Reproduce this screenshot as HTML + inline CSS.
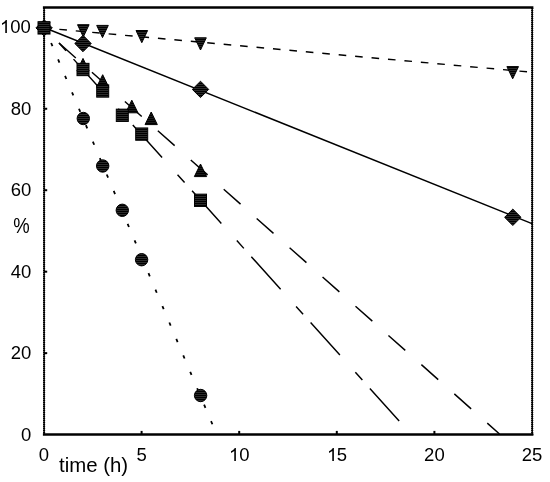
<!DOCTYPE html>
<html><head><meta charset="utf-8"><style>
html,body{margin:0;padding:0;background:#fff;}
body{width:550px;height:482px;position:relative;overflow:hidden;font-family:"Liberation Sans",sans-serif;color:#000;}
svg.m{position:absolute;left:0;top:0;}
.tx{position:absolute;left:0;top:0;width:550px;height:482px;will-change:transform;}
.yl{position:absolute;right:518.6px;font-size:18.5px;line-height:18px;text-align:right;white-space:nowrap;}
.xl{position:absolute;font-size:18.5px;line-height:18px;width:40px;text-align:center;white-space:nowrap;}
.o{vertical-align:baseline;display:inline-block;}
.t{position:absolute;font-size:20.4px;line-height:20px;white-space:nowrap;}
</style></head><body>
<div class="all" style="position:absolute;left:0;top:0;width:550px;height:482px;filter:blur(0.3px)">
<svg class="m" width="550" height="482" viewBox="0 0 550 482">
<defs>
<pattern id="hs" width="4" height="2" patternUnits="userSpaceOnUse">
<rect width="4" height="2" fill="#000"/>
<rect y="0" width="4" height="1" fill="#2c2c2c"/>
</pattern>
<pattern id="hs2" width="4" height="2" patternUnits="userSpaceOnUse">
<rect width="4" height="2" fill="#000"/>
<rect y="0" width="4" height="1" fill="#1c1c1c"/>
</pattern>
<pattern id="ev" width="4" height="2" patternUnits="userSpaceOnUse">
<rect width="4" height="1" fill="#000"/>
</pattern>
</defs>
<line x1="42.9" y1="7.45" x2="533.4" y2="7.45" stroke="#000" stroke-width="2.4"/>
<line x1="42.9" y1="434.45" x2="533.4" y2="434.45" stroke="#000" stroke-width="2.4"/>
<rect x="43.35" y="7" width="1.5" height="428" fill="#000"/>
<rect x="43.05" y="7" width="2.1" height="428" fill="url(#ev)"/>
<rect x="531.45" y="7" width="1.5" height="428" fill="#000"/>
<rect x="531.15" y="7" width="2.1" height="428" fill="url(#ev)"/>
<line x1="141.60" y1="434" x2="141.60" y2="430.9" stroke="#000" stroke-width="2"/>
<line x1="239.20" y1="434" x2="239.20" y2="430.9" stroke="#000" stroke-width="2"/>
<line x1="336.80" y1="434" x2="336.80" y2="430.9" stroke="#000" stroke-width="2"/>
<line x1="434.40" y1="434" x2="434.40" y2="430.9" stroke="#000" stroke-width="2"/>
<line x1="44" y1="353.14" x2="47.2" y2="353.14" stroke="#000" stroke-width="2"/>
<line x1="44" y1="271.68" x2="47.2" y2="271.68" stroke="#000" stroke-width="2"/>
<line x1="44" y1="190.22" x2="47.2" y2="190.22" stroke="#000" stroke-width="2"/>
<line x1="44" y1="108.76" x2="47.2" y2="108.76" stroke="#000" stroke-width="2"/>
<line x1="44" y1="27.5" x2="532" y2="223.6" stroke="#000" stroke-width="1.45"/>
<line x1="44" y1="28" x2="529" y2="72" stroke="#000" stroke-width="1.45" stroke-dasharray="7.6 8.9" stroke-dashoffset="1.1"/>
<line x1="59" y1="43" x2="499.5" y2="434" stroke="#000" stroke-width="1.45" stroke-dasharray="22.5 21.55"/>
<line x1="59" y1="43" x2="410.9" y2="434" stroke="#000" stroke-width="1.45" stroke-dasharray="10.5 11.2 43.8 23.1"/>
<line x1="44" y1="26.1" x2="216.5" y2="434" stroke="#000" stroke-width="1.8" stroke-dasharray="3.4 14.45" stroke-dashoffset="-0.5"/>
<path d="M38.40 22.00L50.00 22.00L44.20 34.20Z" fill="url(#hs)" stroke="#000" stroke-width="1.0" stroke-linejoin="miter"/>
<path d="M77.50 24.70L89.10 24.70L83.30 36.90Z" fill="url(#hs)" stroke="#000" stroke-width="1.0" stroke-linejoin="miter"/>
<path d="M96.70 25.40L108.30 25.40L102.50 37.60Z" fill="url(#hs)" stroke="#000" stroke-width="1.0" stroke-linejoin="miter"/>
<path d="M136.00 30.50L147.60 30.50L141.80 42.70Z" fill="url(#hs)" stroke="#000" stroke-width="1.0" stroke-linejoin="miter"/>
<path d="M194.70 37.80L206.30 37.80L200.50 50.00Z" fill="url(#hs)" stroke="#000" stroke-width="1.0" stroke-linejoin="miter"/>
<path d="M506.90 66.60L518.50 66.60L512.70 78.80Z" fill="url(#hs)" stroke="#000" stroke-width="1.0" stroke-linejoin="miter"/>
<path d="M44.10 19.70L52.30 27.90L44.10 36.09L35.91 27.90Z" fill="url(#hs)" stroke="#000" stroke-width="1.0"/>
<path d="M83.00 35.30L91.19 43.50L83.00 51.70L74.81 43.50Z" fill="url(#hs)" stroke="#000" stroke-width="1.0"/>
<path d="M200.50 81.21L208.69 89.40L200.50 97.59L192.31 89.40Z" fill="url(#hs)" stroke="#000" stroke-width="1.0"/>
<path d="M512.80 209.11L521.00 217.30L512.80 225.50L504.60 217.30Z" fill="url(#hs)" stroke="#000" stroke-width="1.0"/>
<path d="M83.00 58.40L89.15 71.00L76.85 71.00Z" fill="url(#hs2)" stroke="#000" stroke-width="1.0" stroke-linejoin="miter"/>
<path d="M102.70 74.70L108.85 87.30L96.55 87.30Z" fill="url(#hs2)" stroke="#000" stroke-width="1.0" stroke-linejoin="miter"/>
<path d="M131.80 100.20L137.95 112.80L125.65 112.80Z" fill="url(#hs2)" stroke="#000" stroke-width="1.0" stroke-linejoin="miter"/>
<path d="M151.20 112.00L157.35 124.60L145.05 124.60Z" fill="url(#hs2)" stroke="#000" stroke-width="1.0" stroke-linejoin="miter"/>
<path d="M200.50 164.00L206.65 176.60L194.35 176.60Z" fill="url(#hs2)" stroke="#000" stroke-width="1.0" stroke-linejoin="miter"/>
<rect x="38.00" y="21.75" width="12.00" height="12.30" fill="url(#hs)" stroke="#000" stroke-width="1.0"/>
<rect x="77.00" y="63.35" width="12.00" height="12.30" fill="url(#hs)" stroke="#000" stroke-width="1.0"/>
<rect x="96.70" y="84.85" width="12.00" height="12.30" fill="url(#hs)" stroke="#000" stroke-width="1.0"/>
<rect x="116.30" y="109.15" width="12.00" height="12.30" fill="url(#hs)" stroke="#000" stroke-width="1.0"/>
<rect x="135.70" y="127.95" width="12.00" height="12.30" fill="url(#hs)" stroke="#000" stroke-width="1.0"/>
<rect x="194.50" y="194.15" width="12.00" height="12.30" fill="url(#hs)" stroke="#000" stroke-width="1.0"/>
<circle cx="83.30" cy="118.50" r="6.20" fill="url(#hs)" stroke="#000" stroke-width="1.0"/>
<circle cx="102.70" cy="166.00" r="6.20" fill="url(#hs)" stroke="#000" stroke-width="1.0"/>
<circle cx="122.30" cy="210.30" r="6.20" fill="url(#hs)" stroke="#000" stroke-width="1.0"/>
<circle cx="141.60" cy="259.70" r="6.20" fill="url(#hs)" stroke="#000" stroke-width="1.0"/>
<circle cx="200.60" cy="395.50" r="6.20" fill="url(#hs)" stroke="#000" stroke-width="1.0"/>
</svg>
<div class="tx">
<div class="yl" style="top:425.6px">0</div>
<div class="yl" style="top:344.1px">20</div>
<div class="yl" style="top:262.7px">40</div>
<div class="yl" style="top:181.2px">60</div>
<div class="yl" style="top:99.8px">80</div>
<div class="yl" style="top:18.3px;margin-right:0.6px"><svg class="o" viewBox="0 -1472 1139 1472" width="10.289" height="13.297"><path transform="scale(1,-1)" d="M763 0L583 0L583 1147Q518 1085 412 1023Q306 961 222 930L222 1104Q373 1175 486 1276Q599 1377 646 1472L763 1472Z"/></svg>00</div>
<div class="xl" style="left:24.0px;top:446.3px">0</div>
<div class="xl" style="left:121.6px;top:446.3px">5</div>
<div class="xl" style="left:219.2px;top:446.3px"><svg class="o" viewBox="0 -1472 1139 1472" width="10.289" height="13.297"><path transform="scale(1,-1)" d="M763 0L583 0L583 1147Q518 1085 412 1023Q306 961 222 930L222 1104Q373 1175 486 1276Q599 1377 646 1472L763 1472Z"/></svg>0</div>
<div class="xl" style="left:316.8px;top:446.3px"><svg class="o" viewBox="0 -1472 1139 1472" width="10.289" height="13.297"><path transform="scale(1,-1)" d="M763 0L583 0L583 1147Q518 1085 412 1023Q306 961 222 930L222 1104Q373 1175 486 1276Q599 1377 646 1472L763 1472Z"/></svg>5</div>
<div class="xl" style="left:414.4px;top:446.3px">20</div>
<div class="xl" style="left:512.0px;top:446.3px">25</div>
<div class="t" style="left:59px;top:454.6px">time (h)</div>
<div class="t" style="left:12px;top:215.2px;font-size:20px;transform-origin:17.4px 9.9px;transform:scale(0.924,1.086)">%</div>
</div></div></body></html>
